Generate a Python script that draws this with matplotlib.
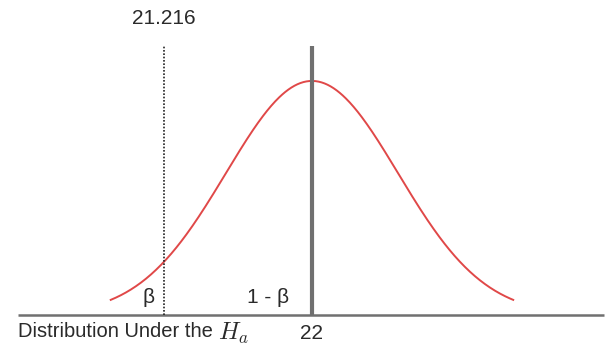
import numpy as np
import matplotlib
matplotlib.use("Agg")
import matplotlib.pyplot as plt
from matplotlib.transforms import offset_copy

# values
mean_ha = 22.0
sigma_ha = 0.455
crit_value = 21.216
curve_span = 1.065          # curve drawn from mean - span to mean + span
label_crit = "21.216"
label_mean = "22"
label_beta = "\u03b2"
label_power = "1 - \u03b2"
label_dist = "Distribution Under the"
label_ha = "$H_a$"

plt.rcParams['font.family'] = ['Liberation Sans', 'DejaVu Sans']
plt.rcParams['mathtext.fontset'] = 'cm'

fig = plt.figure(figsize=(6.06, 3.47), dpi=100)
ax = fig.add_axes([0, 0, 1, 1])
ax.set_xlim(20.349, 23.556)
ax.set_ylim(-0.1199, 1.180)
ax.axis('off')

xs = np.linspace(mean_ha - curve_span, mean_ha + curve_span, 400)
pdf = np.exp(-(xs - mean_ha) ** 2 / (2 * sigma_ha ** 2)) / (sigma_ha * np.sqrt(2 * np.pi))
ax.plot(xs, pdf, color='#e04848', lw=1.4, zorder=2)

# baseline and the two vertical markers
ax.plot([20.444, 23.545], [0, 0], color='#707070', lw=1.8, solid_capstyle='butt', zorder=3)
ax.plot([mean_ha, mean_ha], [0, 1.008], color='#707070', lw=3.0, solid_capstyle='butt', zorder=3)
ax.plot([crit_value, crit_value], [0, 1.008], color='#222222', lw=1.2,
        linestyle=(0, (1, 1)), zorder=3)

tc = '#2a2a2a'
ax.text(crit_value, 1.112, label_crit, ha='center', va='center', fontsize=15, color=tc)
ax.text(mean_ha, -0.068, label_mean, ha='center', va='center', fontsize=15, color=tc)
ax.text(21.133, 0.066, label_beta, ha='center', va='center', fontsize=15, color=tc)
ax.text(21.767, 0.066, label_power, ha='center', va='center', fontsize=15, color=tc)
t = ax.text(20.444, -0.062, label_dist, ha='left', va='center', fontsize=14.5, color=tc)

# put H_a right after the caption text
fig.canvas.draw()
bb = t.get_window_extent(renderer=fig.canvas.get_renderer())
x_end = ax.transData.inverted().transform((bb.x1, bb.y0))[0]
ax.text(x_end, -0.068, label_ha, transform=offset_copy(ax.transData, fig=fig, x=5, y=0, units='dots'),
        ha='left', va='center', fontsize=17.5, color=tc)

fig.savefig('out.png', dpi=100)
